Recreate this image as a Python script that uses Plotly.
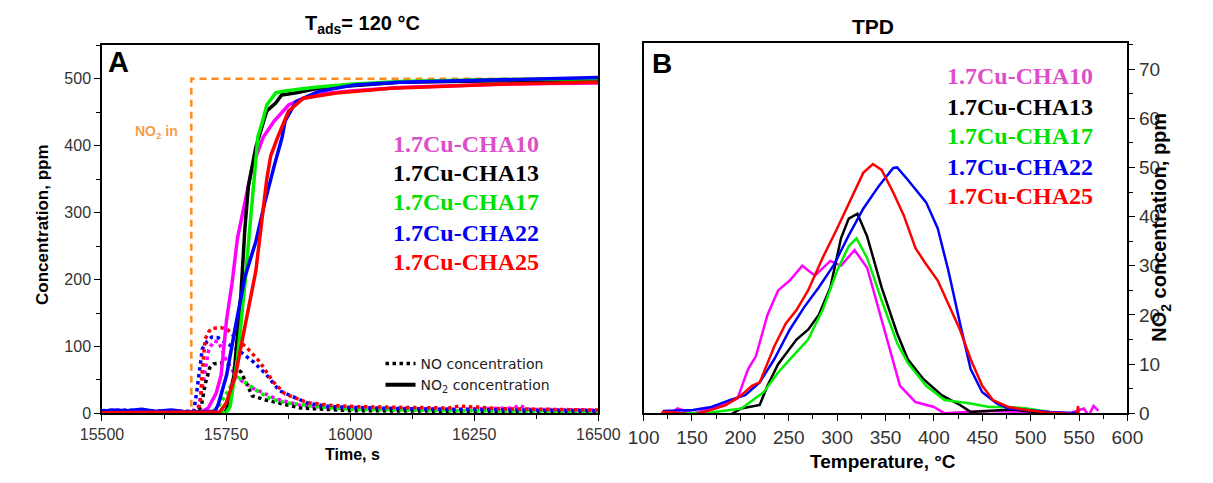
import plotly.graph_objects as go

W, H = 1213, 483

# ---------------- Panel A data (time, s / concentration, ppm) ----------------
# NO2 inlet (step)
no2_in_t = [15500, 15680, 15680, 16500]
no2_in_c = [0, 0, 500, 500]

# NO2 outlet (solid)
cha10_no2_t = [15500, 15530, 15560, 15600, 15640, 15680, 15700, 15714, 15730, 15740, 15751, 15762, 15773, 15788, 15803, 15825, 15847, 15876, 15906, 15950, 16000, 16100, 16200, 16300, 16400, 16500]
cha10_no2_c = [2, 1, 3, 1, 2, 1, 2, 8, 30, 57, 140, 194, 262, 315, 369, 413, 437, 461, 471, 478, 482, 487, 490, 492, 493, 494]

cha13_no2_t = [15500, 15600, 15700, 15745, 15751, 15766, 15780, 15788, 15795, 15799, 15810, 15832, 15850, 15862, 15889, 15935, 16000, 16100, 16300, 16500]
cha13_no2_c = [1, 1, 1, 1, 5, 57, 179, 277, 340, 354, 398, 452, 464, 476, 479, 486, 490, 495, 497, 498]

cha17_no2_t = [15500, 15600, 15700, 15750, 15758, 15773, 15788, 15803, 15814, 15824, 15832, 15850, 15862, 15900, 15935, 16000, 16100, 16300, 16500]
cha17_no2_c = [1, 1, 1, 1, 10, 82, 194, 325, 413, 438, 461, 479, 481, 485, 488, 492, 496, 499, 500]

cha22_no2_t = [15500, 15520, 15550, 15580, 15610, 15640, 15670, 15700, 15728, 15735, 15751, 15769, 15788, 15810, 15828, 15847, 15863, 15869, 15891, 15935, 16009, 16100, 16300, 16500]
cha22_no2_c = [3, 5, 4, 6, 3, 5, 2, 3, 3, 15, 57, 130, 204, 257, 315, 370, 413, 437, 466, 481, 491, 495, 498, 502]

cha25_no2_t = [15500, 15600, 15700, 15737, 15750, 15769, 15788, 15810, 15832, 15840, 15854, 15876, 15906, 15972, 16083, 16300, 16500]
cha25_no2_c = [1, 1, 1, 2, 15, 57, 130, 213, 350, 385, 413, 452, 471, 479, 486, 492, 495]

# NO outlet (dotted)
cha10_no_t = [15500, 15600, 15685, 15695, 15705, 15715, 15725, 15735, 15750, 15772, 15803, 15850, 15900, 15960, 16050, 16200, 16330, 16340, 16360, 16400, 16500]
cha10_no_c = [1, 1, 1, 10, 50, 95, 108, 107, 80, 53, 38, 22, 12, 8, 7, 6, 8, 12, 6, 6, 5]

cha13_no_t = [15500, 15690, 15700, 15708, 15717, 15725, 15745, 15760, 15780, 15790, 15803, 15830, 15862, 15900, 16000, 16500]
cha13_no_c = [1, 1, 10, 44, 68, 74, 76, 72, 62, 45, 26, 20, 14, 8, 4, 2]

cha17_no_t = [15500, 15720, 15735, 15750, 15765, 15775, 15790, 15818, 15840, 15869, 15934, 16000, 16200, 16500]
cha17_no_c = [1, 1, 10, 30, 48, 53, 45, 31, 22, 16, 10, 6, 4, 3]

cha22_no_t = [15500, 15550, 15600, 15685, 15692, 15702, 15712, 15721, 15734, 15752, 15779, 15805, 15831, 15857, 15915, 15960, 16050, 16200, 16500]
cha22_no_c = [4, 5, 3, 3, 38, 96, 108, 114, 113, 104, 92, 77, 58, 34, 15, 10, 8, 6, 4]

cha25_no_t = [15500, 15600, 15680, 15692, 15698, 15702, 15708, 15715, 15721, 15740, 15752, 15770, 15791, 15818, 15844, 15869, 15915, 15960, 16012, 16100, 16200, 16220, 16300, 16400, 16500]
cha25_no_c = [1, 1, 1, 5, 15, 63, 111, 122, 127, 128, 126, 112, 99, 77, 48, 29, 16, 12, 10, 9, 8, 11, 7, 6, 5]

# ---------------- Panel B data (temperature, C / NO2, ppm) ----------------
cha10_T = [118, 125, 135, 151, 182, 197, 208, 216, 228, 239, 251, 264, 277, 293, 304, 318, 331, 342, 354, 365, 381, 400, 411, 450, 500, 540, 555, 560, 565, 570]
cha10_v = [0, -0.5, 1, 0, 1.7, 3, 9, 11.6, 20, 25, 27, 30, 28, 31, 30, 33.2, 29.6, 22, 13.6, 5.6, 2.3, 1.3, 0, 0.5, 0.3, 0, 1, -0.5, 1.5, 0.5]

cha13_T = [120, 150, 175, 185, 201, 220, 228, 239, 258, 270, 281, 293, 304, 312, 321, 331, 346, 362, 373, 389, 408, 427, 438, 480, 520, 550]
cha13_v = [0, 0, -1, -0.8, 1, 1.7, 5.6, 10, 15, 17, 20, 25.6, 35.6, 39.6, 40.6, 36, 25.6, 16.3, 11, 7, 3.7, 1.7, 0.3, 0.8, 0, -0.5]

cha17_T = [120, 140, 170, 201, 224, 239, 254, 270, 285, 300, 312, 320, 331, 346, 362, 373, 392, 411, 438, 457, 477, 496, 530, 550]
cha17_v = [-1.5, 0, 0.2, 1, 4.3, 8.3, 11.6, 15, 21, 29, 34, 35.6, 31.6, 23, 14.3, 10.3, 5.6, 2.7, 2, 1.3, 1.3, 1, 0, 0]

cha22_T = [120, 151, 170, 189, 205, 220, 235, 251, 266, 281, 297, 312, 327, 343, 358, 362, 373, 392, 404, 415, 427, 438, 450, 465, 477, 496, 520, 550]
cha22_v = [0.5, 0.7, 1.3, 2.7, 3.7, 6.3, 11, 17, 21.6, 25.6, 30.3, 36.2, 41.6, 46.2, 49.9, 50, 47.5, 42.9, 37.6, 29, 18.3, 9, 4.3, 2, 1, 0.7, 0.3, 0]

cha25_T = [115, 120, 132, 151, 170, 185, 201, 212, 220, 235, 247, 258, 270, 285, 300, 316, 327, 337, 346, 358, 369, 381, 392, 404, 415, 427, 438, 450, 461, 477, 496, 515, 534, 548, 549, 550]
cha25_v = [-1.7, 0.3, 0.2, -0.3, 0.7, 1.7, 3.7, 5.6, 6.3, 13.6, 18.3, 21, 25, 31.6, 37.6, 44.2, 48.9, 50.7, 49.5, 44.9, 40.2, 33.6, 30.3, 27, 22.3, 17, 11, 5.6, 2.7, 1.3, 0.7, 0.2, 0, -0.3, 1.5, -1.5]

series_names = ["1.7Cu-CHA10", "1.7Cu-CHA13", "1.7Cu-CHA17", "1.7Cu-CHA22", "1.7Cu-CHA25"]
line_colors = ["#ff00ff", "#000000", "#00ee00", "#0000ff", "#ff0000"]
text_colors = ["#dd4fc8", "#000000", "#00e000", "#0000ee", "#ff0000"]

no2_sets = [(cha10_no2_t, cha10_no2_c), (cha13_no2_t, cha13_no2_c), (cha17_no2_t, cha17_no2_c),
            (cha22_no2_t, cha22_no2_c), (cha25_no2_t, cha25_no2_c)]
no_sets = [(cha10_no_t, cha10_no_c), (cha13_no_t, cha13_no_c), (cha17_no_t, cha17_no_c),
           (cha22_no_t, cha22_no_c), (cha25_no_t, cha25_no_c)]
tpd_sets = [(cha10_T, cha10_v), (cha13_T, cha13_v), (cha17_T, cha17_v),
            (cha22_T, cha22_v), (cha25_T, cha25_v)]

fig = go.Figure()

# orange inlet line
fig.add_trace(go.Scatter(x=no2_in_t, y=no2_in_c, mode="lines", xaxis="x", yaxis="y",
                         line=dict(color="#ff8c1a", width=2.5, dash="7px,5px"), showlegend=False))

for (t, c), col in zip(no_sets, line_colors):
    fig.add_trace(go.Scatter(x=t, y=c, mode="lines", xaxis="x", yaxis="y",
                             line=dict(color=col, width=3.5, dash="dot"), showlegend=False))
for (t, c), col in zip(no2_sets, line_colors):
    fig.add_trace(go.Scatter(x=t, y=c, mode="lines", xaxis="x", yaxis="y",
                             line=dict(color=col, width=3.5), showlegend=False))

for (T, v), col in zip(tpd_sets, line_colors):
    fig.add_trace(go.Scatter(x=T, y=v, mode="lines", xaxis="x2", yaxis="y2",
                             line=dict(color=col, width=2.5), showlegend=False))

# legend entries for line style
fig.add_trace(go.Scatter(x=[None], y=[None], mode="lines", xaxis="x", yaxis="y",
                         line=dict(color="black", width=3.5, dash="dot"), name="NO concentration"))
fig.add_trace(go.Scatter(x=[None], y=[None], mode="lines", xaxis="x", yaxis="y",
                         line=dict(color="black", width=4), name="NO<sub>2</sub> concentration"))

tickfont_a = dict(family="Liberation Sans", size=16, color="#333333")
tickfont_b = dict(family="Liberation Sans", size=19, color="#333333")
axis_common = dict(showline=True, linecolor="black", linewidth=1.5, mirror=True,
                   ticks="outside", ticklen=6, tickcolor="black", tickwidth=1.2,
                   showgrid=False, zeroline=False)

def px(x):
    return x / W

def py(y):
    return 1 - y / H

fig.update_layout(
    width=W, height=H, margin=dict(l=0, r=0, t=0, b=0),
    paper_bgcolor="white", plot_bgcolor="white",
    xaxis=dict(domain=[px(83), px(598)], range=[15500, 16500], anchor="y", dtick=250,
               tickformat="d",
               tickfont=tickfont_a, minor=dict(dtick=125, ticklen=4, tickcolor="black", ticks="outside"),
               **axis_common),
    yaxis=dict(domain=[py(423), py(46)], range=[0, 550.7], anchor="x", dtick=100,
               tickfont=tickfont_a, minor=dict(dtick=50, ticklen=4, tickcolor="black", ticks="outside"),
               **axis_common),
    xaxis2=dict(domain=[px(645), px(1147)], range=[100, 600], anchor="y2", dtick=50,
                tickfont=tickfont_b, minor=dict(dtick=25, ticklen=4, tickcolor="black", ticks="outside"),
                **axis_common),
    yaxis2=dict(domain=[py(423), py(44)], range=[0, 75.3], anchor="x2", side="right", dtick=10,
                tickfont=tickfont_b, minor=dict(dtick=5, ticklen=4, tickcolor="black", ticks="outside"),
                **axis_common),
    legend=dict(x=px(372), y=py(356), xanchor="left", yanchor="top", bgcolor="rgba(0,0,0,0)",
                font=dict(family="DejaVu Sans", size=14, color="#222222"), tracegroupgap=0,
                itemwidth=30),
)

ann = []
def add(text, x, y, size, bold=True, color="black", family="Liberation Sans", angle=0, xanchor="center"):
    t = f"<b>{text}</b>" if bold else text
    ann.append(dict(text=t, x=px(x), y=py(y), xref="paper", yref="paper", showarrow=False,
                    font=dict(family=family, size=size, color=color), textangle=angle,
                    xanchor=xanchor, yanchor="middle"))

add("T<sub>ads</sub>= 120 °C", 353, 25, 20)
add("TPD", 883, 27, 21)
add("A", 100, 63, 29)
add("B", 664, 65, 28)
add("Concentration, ppm", 22, 230, 17, angle=-90)
add("Time, s", 343, 465, 16)
add("Temperature, °C", 893, 472, 19)
add("NO<sub>2</sub> concentration, ppm", 1182, 233, 20, angle=-90)
add("NO<sub>2</sub> in", 140, 135, 14, color="#f4a050")

ya = [147, 177, 207, 238, 268]
yb = [78, 109, 139, 171, 201]
for name, col, y1, y2 in zip(series_names, text_colors, ya, yb):
    add(name, 383, y1, 24, color=col, family="Liberation Serif", xanchor="left")
    add(name, 958, y2, 24, color=col, family="Liberation Serif", xanchor="left")

fig.update_layout(annotations=ann)
fig.write_html("out.html")
